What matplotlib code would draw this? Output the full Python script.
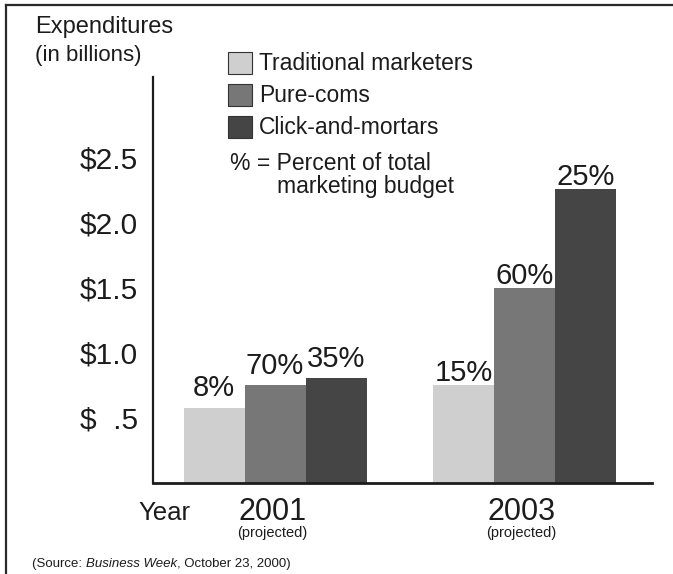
import matplotlib
matplotlib.use("Agg")
import matplotlib.pyplot as plt
from matplotlib.patches import Rectangle
from matplotlib.lines import Line2D

plt.rcParams['font.family'] = ['Liberation Sans', 'DejaVu Sans']

# spending in billions of dollars, by year and by type of marketer
years = ['2001', '2003']
series = ['Traditional marketers', 'Pure-coms', 'Click-and-mortars']
spend = {
    'Traditional marketers': [0.58, 0.75],
    'Pure-coms': [0.75, 1.50],
    'Click-and-mortars': [0.81, 2.26],
}
# share of total marketing budget, printed above each bar
budget_share = {
    'Traditional marketers': ['8%', '15%'],
    'Pure-coms': ['70%', '60%'],
    'Click-and-mortars': ['35%', '25%'],
}
colors = ['#cfcfcf', '#777777', '#454545']
ytick_vals = [0.5, 1.0, 1.5, 2.0, 2.5]
ytick_labels = ['$  .5', '$1.0', '$1.5', '$2.0', '$2.5']

W, H = 673, 574
ink = '#1c1c1c'
label_gap = [8, 3]  # points between bar top and its label, per year group


def px(x, y):
    # pixel position (from top left) -> figure fraction
    return x / W, 1 - y / H


fig = plt.figure(figsize=(W / 100, H / 100), dpi=100, facecolor='white')
ax = fig.add_axes([153 / W, 91 / H, (652 - 153) / W, (483 - 77) / H])

width = 0.2445
for i, name in enumerate(series):
    xs = [g + (i - 1) * width for g in range(len(years))]
    bars = ax.bar(xs, spend[name], width=width, color=colors[i], linewidth=0)
    for g, (b, lab) in enumerate(zip(bars, budget_share[name])):
        ax.annotate(lab, (b.get_x() + b.get_width() / 2, b.get_height()),
                    xytext=(0, label_gap[g]), textcoords='offset points',
                    ha='center', va='baseline', fontsize=21, color=ink)

ax.set_xlim(-0.489, 1.511)
ax.set_ylim(0, 3.123)

ax.spines['top'].set_visible(False)
ax.spines['right'].set_visible(False)
ax.spines['left'].set_linewidth(1.6)
ax.spines['bottom'].set_linewidth(2.0)
ax.spines['left'].set_color(ink)
ax.spines['bottom'].set_color(ink)

ax.set_yticks(ytick_vals)
ax.set_yticklabels(ytick_labels)
ax.tick_params(axis='y', length=0, pad=11, labelsize=21.5, labelcolor=ink)
ax.set_xticks([])

# year labels under each group
for g, yr in enumerate(years):
    ax.annotate(yr, (g, 0), xycoords=ax.get_xaxis_transform(),
                xytext=(-2, -27), textcoords='offset points',
                ha='center', va='baseline', fontsize=22, color=ink)
    ax.annotate('(projected)', (g, 0), xycoords=ax.get_xaxis_transform(),
                xytext=(-2, -39), textcoords='offset points',
                ha='center', va='baseline', fontsize=10.5, color=ink)
fig.text(*px(138, 520), 'Year', ha='left', va='baseline', fontsize=18.5, color=ink)

# axis title
fig.text(*px(35, 27), 'Expenditures', ha='left', va='center', fontsize=17, color=ink)
fig.text(*px(35, 55), '(in billions)', ha='left', va='center', fontsize=16, color=ink)

# legend boxes
for i, name in enumerate(series):
    cy = 63 + 32 * i
    x0, y0 = px(228, cy + 11)
    fig.add_artist(Rectangle((x0, y0), 24 / W, 22 / H, transform=fig.transFigure,
                             facecolor=colors[i], edgecolor='#333333', linewidth=0.8))
    fig.text(*px(259, cy), name, ha='left', va='center', fontsize=16.5, color=ink)

fig.text(*px(230, 163), '% = Percent of total', ha='left', va='center', fontsize=16.5, color=ink)
fig.text(*px(277, 186), 'marketing budget', ha='left', va='center', fontsize=16.5, color=ink)

# source line, magazine name in italics
renderer = fig.canvas.get_renderer()
x = 32
for piece, style in [('(Source: ', 'normal'), ('Business Week', 'italic'),
                     (', October 23, 2000)', 'normal')]:
    t = fig.text(*px(x, 567), piece, ha='left', va='baseline', fontsize=9.5,
                 style=style, color=ink)
    x += t.get_window_extent(renderer).width

# frame along the top and left edges
fig.add_artist(Line2D([6 / W, 1], [1 - 5 / H, 1 - 5 / H], transform=fig.transFigure,
                      color='#2a2a2a', linewidth=1.6))
fig.add_artist(Line2D([6 / W, 6 / W], [1 - 5 / H, 0], transform=fig.transFigure,
                      color='#2a2a2a', linewidth=1.6))

fig.savefig('out.png', dpi=100, facecolor='white')
